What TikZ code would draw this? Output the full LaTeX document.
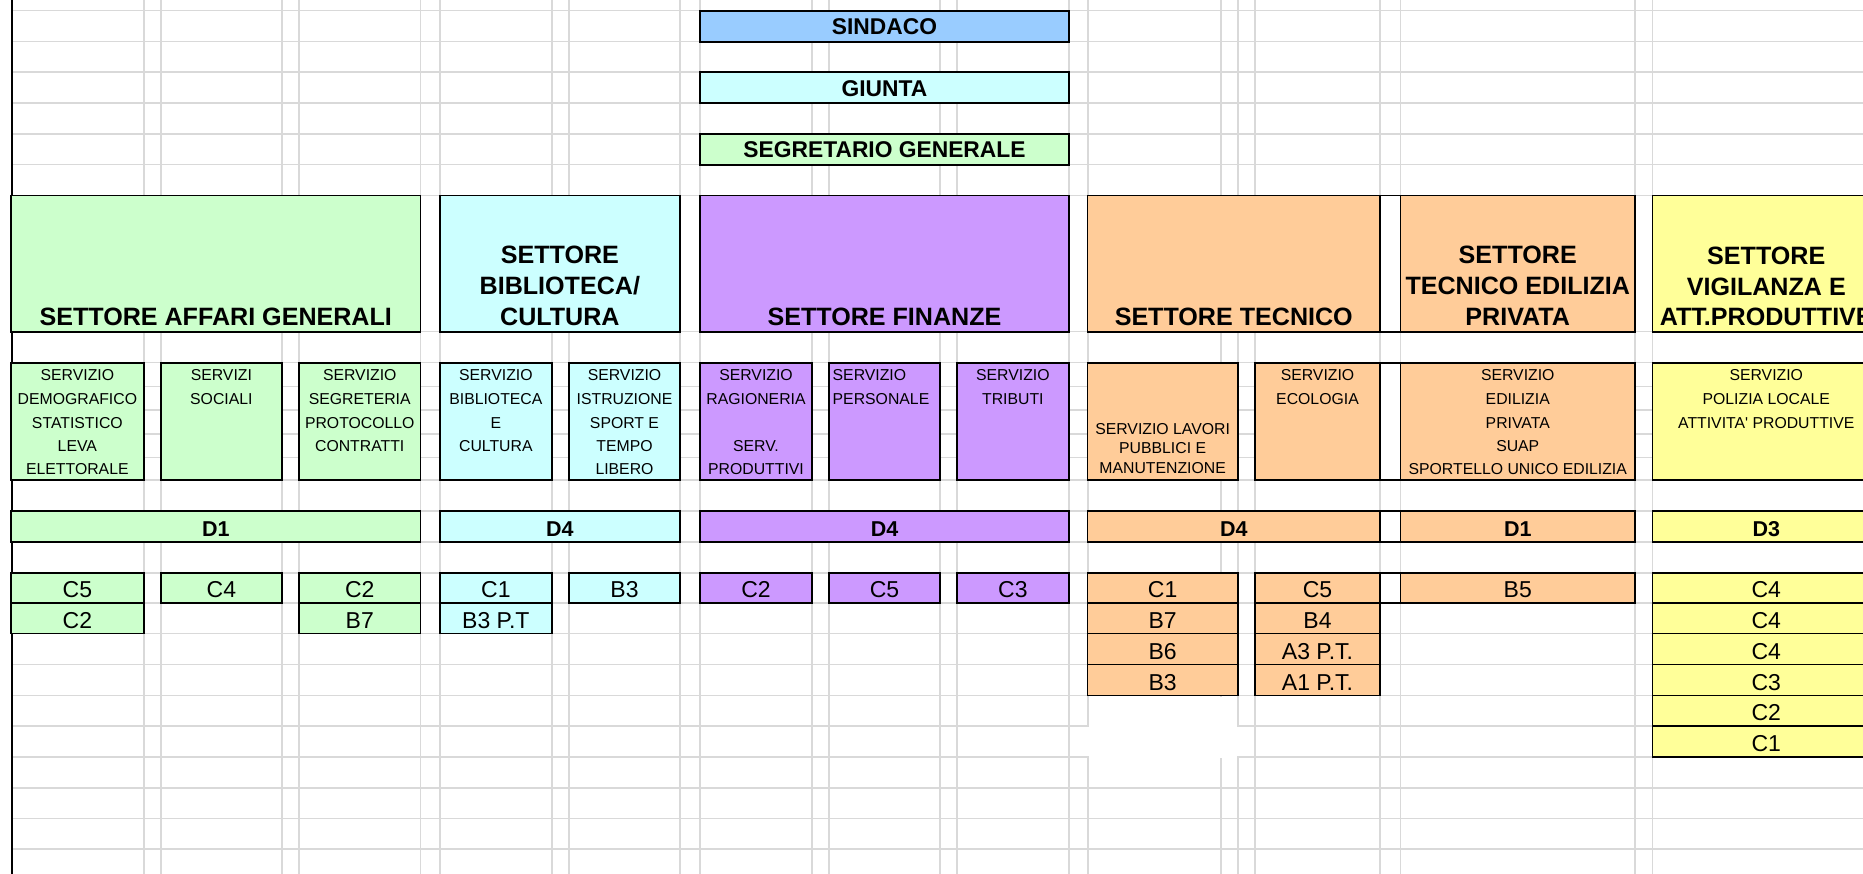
\documentclass[tikz,border=0pt]{standalone}
\usepackage{fontspec}
\newfontfamily\arialf{Liberation Sans}
\definecolor{cgreen}{HTML}{CCFFCC}
\definecolor{ccyan}{HTML}{CCFFFF}
\definecolor{cpurple}{HTML}{CC99FF}
\definecolor{corange}{HTML}{FFCC99}
\definecolor{cyellow}{HTML}{FFFF99}
\definecolor{cblue}{HTML}{99CCFF}
\definecolor{gridgray}{HTML}{D9D9D9}
\newcommand\cellbox[6]{\node[cellbx, fill=#2, minimum width={#5-#3}, minimum height={#6-#4}] (#1) at (#3,#4) {};}
\newcommand\tx[5]{\node[#1] (#2) at (#3,#4) {#5};}
\begin{document}
\begin{tikzpicture}[x=1pt,y=-1pt,
  cellbx/.style={draw=black, line width=1.8pt, inner sep=0pt, outer sep=0pt, anchor=north west},
  gridln/.style={draw=gridgray, line width=1.6pt},
  hdr/.style={font=\arialf\bfseries\fontsize{25.1}{30}\selectfont, inner sep=0pt, anchor=base},
  toptx/.style={font=\arialf\bfseries\fontsize{22.8}{28}\selectfont, inner sep=0pt, anchor=base},
  svc/.style={font=\arialf\fontsize{15.8}{19}\selectfont, inner sep=0pt, anchor=base},
  svcl/.style={svc, anchor=base west},
  lvl/.style={font=\arialf\bfseries\fontsize{21.5}{26}\selectfont, inner sep=0pt, anchor=base},
  rank/.style={font=\arialf\fontsize{23}{28}\selectfont, inner sep=0pt, anchor=base},
]
\useasboundingbox (0,0) rectangle (1863,874);
\clip (0,0) rectangle (1863,874);
% grid
\foreach \gx in {143.7,160.7,282,299,420.5,439.7,552,569,680,700,812,829,940,956.7,1069,1088,1221,1238,1255,1380,1400.5,1635,1652.5}
  \draw[gridln] (\gx,0) -- (\gx,874);
\foreach \gy in {10.7,41.7,72,103,134,164.7,195.5,331.7,362.7,386.7,410,434,457.3,480,510.7,541.7,572.7,603,633.5,664.5,695.5,725.7,756.7,787.7,818.5,849}
  \draw[gridln] (12,\gy) -- (1863,\gy);
\fill[white] (1089,696.6) rectangle (1237,757.6);
\fill[white] (1086.5,726.6) rectangle (1239.5,755.8);
\draw[line width=2pt] (11.5,0) -- (11.5,874);
% top boxes
\cellbox{sind}{cblue}{700}{10.7}{1069}{41.7}
\cellbox{giu}{ccyan}{700}{71.7}{1069}{102.7}
\cellbox{segr}{cgreen}{700}{133.7}{1069}{164.7}
\tx{toptx}{tsind}{884.5}{35}{SINDACO}
\tx{toptx}{tgiu}{884.5}{96.5}{GIUNTA}
\tx{toptx}{tsegr}{884.5}{157.7}{SEGRETARIO GENERALE}
% sector headers
\cellbox{sag}{cgreen}{11}{195.5}{420.5}{331.7}
\cellbox{sbib}{ccyan}{439.7}{195.5}{680}{331.7}
\cellbox{sfin}{cpurple}{700}{195.5}{1069}{331.7}
\cellbox{stec}{corange}{1087.5}{195.5}{1380}{331.7}
\cellbox{sgap}{white}{1380}{195.5}{1400.5}{331.7}
\cellbox{sedi}{corange}{1400.5}{195.5}{1635}{331.7}
\cellbox{svig}{cyellow}{1652.5}{195.5}{1880}{331.7}
\tx{hdr}{hag}{215.75}{325.6}{SETTORE AFFARI GENERALI}
\tx{hdr}{hbiba}{559.85}{263.6}{SETTORE}
\tx{hdr}{hbibb}{559.85}{294.6}{BIBLIOTECA/}
\tx{hdr}{hbibc}{559.85}{325.6}{CULTURA}
\tx{hdr}{hfin}{884.5}{325.6}{SETTORE FINANZE}
\tx{hdr}{htec}{1233.75}{325.6}{SETTORE TECNICO}
\tx{hdr}{hedia}{1517.75}{263.6}{SETTORE}
\tx{hdr}{hedib}{1517.75}{294.6}{TECNICO EDILIZIA}
\tx{hdr}{hedic}{1517.75}{325.6}{PRIVATA}
\tx{hdr}{hviga}{1766.25}{264.6}{SETTORE}
\tx{hdr}{hvigb}{1766.25}{295.1}{VIGILANZA E}
\tx{hdr}{hvigc}{1766.25}{325.6}{ATT.PRODUTTIVE}
% services
\cellbox{vdem}{cgreen}{11}{362.7}{143.7}{480}
\cellbox{vsoc}{cgreen}{160.7}{362.7}{282}{480}
\cellbox{vseg}{cgreen}{299}{362.7}{420.5}{480}
\cellbox{vbib}{ccyan}{439.7}{362.7}{552}{480}
\cellbox{vist}{ccyan}{569}{362.7}{680}{480}
\cellbox{vrag}{cpurple}{700}{362.7}{812}{480}
\cellbox{vper}{cpurple}{829}{362.7}{940}{480}
\cellbox{vtri}{cpurple}{956.7}{362.7}{1069}{480}
\cellbox{vlav}{corange}{1087.5}{362.7}{1237.7}{480}
\cellbox{veco}{corange}{1255}{362.7}{1380}{480}
\cellbox{vgap}{white}{1380}{362.7}{1400.5}{480}
\cellbox{vedi}{corange}{1400.5}{362.7}{1635}{480}
\cellbox{vpol}{cyellow}{1652.5}{362.7}{1880}{480}
\tx{svc}{dema}{77.35}{380.9}{SERVIZIO}
\tx{svc}{demb}{77.35}{404.2}{DEMOGRAFICO}
\tx{svc}{demc}{77.35}{428.2}{STATISTICO}
\tx{svc}{demd}{77.35}{451.5}{LEVA}
\tx{svc}{deme}{77.35}{474.2}{ELETTORALE}
\tx{svc}{soca}{221.35}{380.9}{SERVIZI}
\tx{svc}{socb}{221.35}{404.2}{SOCIALI}
\tx{svc}{sega}{359.75}{380.9}{SERVIZIO}
\tx{svc}{segb}{359.75}{404.2}{SEGRETERIA}
\tx{svc}{segc}{359.75}{428.2}{PROTOCOLLO}
\tx{svc}{segd}{359.75}{451.5}{CONTRATTI}
\tx{svc}{biba}{495.85}{380.9}{SERVIZIO}
\tx{svc}{bibb}{495.85}{404.2}{BIBLIOTECA}
\tx{svc}{bibc}{495.85}{428.2}{E}
\tx{svc}{bibd}{495.85}{451.5}{CULTURA}
\tx{svc}{ista}{624.5}{380.9}{SERVIZIO}
\tx{svc}{istb}{624.5}{404.2}{ISTRUZIONE}
\tx{svc}{istc}{624.5}{428.2}{SPORT E}
\tx{svc}{istd}{624.5}{451.5}{TEMPO}
\tx{svc}{iste}{624.5}{474.2}{LIBERO}
\tx{svc}{raga}{756}{380.9}{SERVIZIO}
\tx{svc}{ragb}{756}{404.2}{RAGIONERIA}
\tx{svc}{ragc}{756}{451.5}{SERV.}
\tx{svc}{ragd}{756}{474.2}{PRODUTTIVI}
\tx{svcl}{pera}{832.5}{380.9}{SERVIZIO}
\tx{svcl}{perb}{832.5}{404.2}{PERSONALE}
\tx{svc}{tria}{1012.85}{380.9}{SERVIZIO}
\tx{svc}{trib}{1012.85}{404.2}{TRIBUTI}
\tx{svc}{lava}{1162.6}{434}{SERVIZIO LAVORI}
\tx{svc}{lavb}{1162.6}{453.4}{PUBBLICI E}
\tx{svc}{lavc}{1162.6}{473}{MANUTENZIONE}
\tx{svc}{ecoa}{1317.5}{380.9}{SERVIZIO}
\tx{svc}{ecob}{1317.5}{404.2}{ECOLOGIA}
\tx{svc}{edia}{1517.75}{380.9}{SERVIZIO}
\tx{svc}{edib}{1517.75}{404.2}{EDILIZIA}
\tx{svc}{edic}{1517.75}{428.2}{PRIVATA}
\tx{svc}{edid}{1517.75}{451.5}{SUAP}
\tx{svc}{edie}{1517.75}{474.2}{SPORTELLO UNICO EDILIZIA}
\tx{svc}{pola}{1766.25}{380.9}{SERVIZIO}
\tx{svc}{polb}{1766.25}{404.2}{POLIZIA LOCALE}
\tx{svc}{polc}{1766.25}{428.2}{ATTIVITA' PRODUTTIVE}
% levels
\cellbox{dag}{cgreen}{11}{510.7}{420.5}{541.7}
\cellbox{dbib}{ccyan}{439.7}{510.7}{680}{541.7}
\cellbox{dfin}{cpurple}{700}{510.7}{1069}{541.7}
\cellbox{dtec}{corange}{1087.5}{510.7}{1380}{541.7}
\cellbox{dgap}{white}{1380}{510.7}{1400.5}{541.7}
\cellbox{dedi}{corange}{1400.5}{510.7}{1635}{541.7}
\cellbox{dvig}{cyellow}{1652.5}{510.7}{1880}{541.7}
\tx{lvl}{ldag}{215.75}{536.5}{D1}
\tx{lvl}{ldbib}{559.85}{536.5}{D4}
\tx{lvl}{ldfin}{884.5}{536.5}{D4}
\tx{lvl}{ldtec}{1233.75}{536.5}{D4}
\tx{lvl}{ldedi}{1517.75}{536.5}{D1}
\tx{lvl}{ldvig}{1766.25}{536.5}{D3}
% ranks
\cellbox{ra1}{cgreen}{11}{572.7}{143.7}{603}
\cellbox{ra2}{cgreen}{11}{603}{143.7}{633.5}
\cellbox{rb1}{cgreen}{160.7}{572.7}{282}{603}
\cellbox{rc1}{cgreen}{299}{572.7}{420.5}{603}
\cellbox{rc2}{cgreen}{299}{603}{420.5}{633.5}
\cellbox{rd1}{ccyan}{439.7}{572.7}{552}{603}
\cellbox{rd2}{ccyan}{439.7}{603}{552}{633.5}
\cellbox{re1}{ccyan}{569}{572.7}{680}{603}
\cellbox{rf1}{cpurple}{700}{572.7}{812}{603}
\cellbox{rg1}{cpurple}{829}{572.7}{940}{603}
\cellbox{rh1}{cpurple}{956.7}{572.7}{1069}{603}
\cellbox{ri1}{corange}{1087.5}{572.7}{1237.7}{603}
\cellbox{ri2}{corange}{1087.5}{603}{1237.7}{633.5}
\cellbox{ri3}{corange}{1087.5}{633.5}{1237.7}{664.5}
\cellbox{ri4}{corange}{1087.5}{664.5}{1237.7}{695.5}
\cellbox{rj1}{corange}{1255}{572.7}{1380}{603}
\cellbox{rj2}{corange}{1255}{603}{1380}{633.5}
\cellbox{rj3}{corange}{1255}{633.5}{1380}{664.5}
\cellbox{rj4}{corange}{1255}{664.5}{1380}{695.5}
\cellbox{rgap}{white}{1380}{572.7}{1400.5}{603}
\cellbox{rk1}{corange}{1400.5}{572.7}{1635}{603}
\cellbox{rl1}{cyellow}{1652.5}{572.7}{1880}{603}
\cellbox{rl2}{cyellow}{1652.5}{603}{1880}{633.5}
\cellbox{rl3}{cyellow}{1652.5}{633.5}{1880}{664.5}
\cellbox{rl4}{cyellow}{1652.5}{664.5}{1880}{695.5}
\cellbox{rl5}{cyellow}{1652.5}{695.5}{1880}{725.7}
\cellbox{rl6}{cyellow}{1652.5}{725.7}{1880}{756.7}
\tx{rank}{tra1}{77.35}{597.5}{C5}
\tx{rank}{tra2}{77.35}{628}{C2}
\tx{rank}{trb1}{221.35}{597.5}{C4}
\tx{rank}{trc1}{359.75}{597.5}{C2}
\tx{rank}{trc2}{359.75}{628}{B7}
\tx{rank}{trd1}{495.85}{597.5}{C1}
\tx{rank}{trd2}{495.85}{628}{B3 P.T}
\tx{rank}{tre1}{624.5}{597.5}{B3}
\tx{rank}{trf1}{756}{597.5}{C2}
\tx{rank}{trg1}{884.5}{597.5}{C5}
\tx{rank}{trh1}{1012.85}{597.5}{C3}
\tx{rank}{tri1}{1162.6}{597.5}{C1}
\tx{rank}{tri2}{1162.6}{628}{B7}
\tx{rank}{tri3}{1162.6}{659}{B6}
\tx{rank}{tri4}{1162.6}{690}{B3}
\tx{rank}{trj1}{1317.5}{597.5}{C5}
\tx{rank}{trj2}{1317.5}{628}{B4}
\tx{rank}{trj3}{1317.5}{659}{A3 P.T.}
\tx{rank}{trj4}{1317.5}{690}{A1 P.T.}
\tx{rank}{trk1}{1517.75}{597.5}{B5}
\tx{rank}{trl1}{1766.25}{597.5}{C4}
\tx{rank}{trl2}{1766.25}{628}{C4}
\tx{rank}{trl3}{1766.25}{659}{C4}
\tx{rank}{trl4}{1766.25}{690}{C3}
\tx{rank}{trl5}{1766.25}{720.2}{C2}
\tx{rank}{trl6}{1766.25}{751.2}{C1}
\end{tikzpicture}
\end{document}
